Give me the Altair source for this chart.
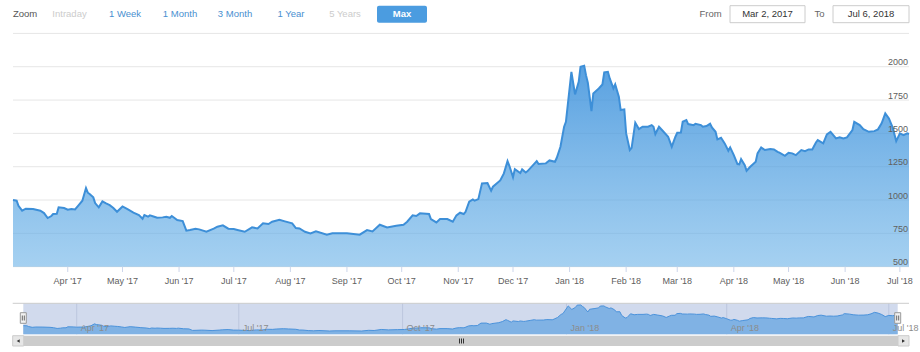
import altair as alt
import pandas as pd

# ---------------- data ----------------
dates = [
    "2017-03-02", "2017-03-04", "2017-03-05", "2017-03-07", "2017-03-09", "2017-03-13", "2017-03-17",
    "2017-03-19", "2017-03-21", "2017-03-23", "2017-03-24", "2017-03-26", "2017-03-27", "2017-03-30",
    "2017-04-01", "2017-04-03", "2017-04-05", "2017-04-07", "2017-04-09", "2017-04-11", "2017-04-12",
    "2017-04-13", "2017-04-15", "2017-04-16", "2017-04-18", "2017-04-20", "2017-04-22", "2017-04-24",
    "2017-04-26", "2017-04-28", "2017-05-01", "2017-05-04", "2017-05-07", "2017-05-10", "2017-05-12",
    "2017-05-13", "2017-05-15", "2017-05-16", "2017-05-18", "2017-05-20", "2017-05-23", "2017-05-25",
    "2017-05-27", "2017-05-28", "2017-05-31", "2017-06-03", "2017-06-05", "2017-06-07", "2017-06-10",
    "2017-06-12", "2017-06-16", "2017-06-20", "2017-06-22", "2017-06-25", "2017-06-28", "2017-07-01",
    "2017-07-03", "2017-07-07", "2017-07-11", "2017-07-14", "2017-07-17", "2017-07-20", "2017-07-22",
    "2017-07-26", "2017-07-29", "2017-08-02", "2017-08-04", "2017-08-06", "2017-08-09", "2017-08-12",
    "2017-08-15", "2017-08-21", "2017-08-24", "2017-09-01", "2017-09-08", "2017-09-12", "2017-09-15",
    "2017-09-19", "2017-09-23", "2017-09-28", "2017-10-02", "2017-10-04", "2017-10-07", "2017-10-09",
    "2017-10-11", "2017-10-16", "2017-10-17", "2017-10-20", "2017-10-22", "2017-10-26", "2017-10-29",
    "2017-10-31", "2017-11-02", "2017-11-04", "2017-11-05", "2017-11-07", "2017-11-09", "2017-11-10",
    "2017-11-12", "2017-11-14", "2017-11-17", "2017-11-19", "2017-11-20", "2017-11-24", "2017-11-26",
    "2017-11-28", "2017-11-29", "2017-12-01", "2017-12-02", "2017-12-05", "2017-12-06", "2017-12-08",
    "2017-12-09", "2017-12-12", "2017-12-14", "2017-12-15", "2017-12-19", "2017-12-21", "2017-12-24",
    "2017-12-25", "2017-12-27", "2017-12-29", "2017-12-30", "2018-01-02", "2018-01-04", "2018-01-06",
    "2018-01-07", "2018-01-09", "2018-01-10", "2018-01-11", "2018-01-13", "2018-01-14", "2018-01-17",
    "2018-01-19", "2018-01-20", "2018-01-22", "2018-01-23", "2018-01-25", "2018-01-26", "2018-01-28",
    "2018-01-29", "2018-01-31", "2018-02-01", "2018-02-03", "2018-02-04", "2018-02-06", "2018-02-08",
    "2018-02-10", "2018-02-13", "2018-02-15", "2018-02-16", "2018-02-17", "2018-02-19", "2018-02-21",
    "2018-02-24", "2018-02-26", "2018-02-28", "2018-03-01", "2018-03-03", "2018-03-04", "2018-03-06",
    "2018-03-07", "2018-03-10", "2018-03-11", "2018-03-14", "2018-03-15", "2018-03-17", "2018-03-19",
    "2018-03-20", "2018-03-22", "2018-03-23", "2018-03-25", "2018-03-27", "2018-03-29", "2018-03-30",
    "2018-04-01", "2018-04-03", "2018-04-04", "2018-04-05", "2018-04-07", "2018-04-08", "2018-04-10",
    "2018-04-13", "2018-04-14", "2018-04-16", "2018-04-18", "2018-04-21", "2018-04-23", "2018-04-25",
    "2018-04-26", "2018-04-29", "2018-05-01", "2018-05-03", "2018-05-05", "2018-05-06", "2018-05-08",
    "2018-05-10", "2018-05-12", "2018-05-14", "2018-05-16", "2018-05-17", "2018-05-20", "2018-05-22",
    "2018-05-24", "2018-05-27", "2018-05-29", "2018-05-31", "2018-06-02", "2018-06-05", "2018-06-06",
    "2018-06-09", "2018-06-11", "2018-06-14", "2018-06-17", "2018-06-19", "2018-06-21", "2018-06-23",
    "2018-06-25", "2018-06-27", "2018-06-29", "2018-07-01", "2018-07-03", "2018-07-05", "2018-07-06",
]
values = [
    1000, 995, 957, 920, 935, 932, 920,
    902, 865, 880, 895, 897, 945, 940,
    927, 932, 930, 962, 995, 1090, 1055,
    1045, 1020, 977, 945, 990, 975, 962,
    940, 912, 952, 930, 905, 887, 860,
    887, 875, 885, 877, 867, 870, 875,
    867, 880, 850, 842, 770, 775, 785,
    780, 762, 785, 800, 810, 785, 782,
    775, 762, 795, 787, 825, 820, 837,
    852, 840, 825, 790, 787, 762, 750,
    765, 740, 750, 750, 740, 775, 765,
    815, 795, 807, 815, 837, 885, 880,
    900, 895, 857, 832, 857, 857, 837,
    885, 905, 895, 912, 987, 1005, 995,
    1007, 1125, 1127, 1070, 1100, 1147, 1200,
    1292, 1257, 1172, 1232, 1202, 1230, 1207,
    1217, 1262, 1292, 1270, 1275, 1297, 1287,
    1317, 1400, 1550, 1587, 1962, 1792, 1887,
    2000, 2008, 1937, 1880, 1667, 1800, 1837,
    1867, 1957, 1962, 1912, 1837, 1867, 1775,
    1675, 1680, 1500, 1375, 1392, 1580, 1532,
    1550, 1550, 1562, 1550, 1495, 1550, 1520,
    1475, 1400, 1475, 1505, 1507, 1587, 1600,
    1570, 1562, 1572, 1562, 1550, 1555, 1572,
    1545, 1512, 1455, 1467, 1425, 1370, 1395,
    1337, 1270, 1267, 1307, 1262, 1220, 1250,
    1287, 1350, 1395, 1375, 1382, 1380, 1362,
    1355, 1332, 1355, 1350, 1337, 1350, 1375,
    1367, 1380, 1380, 1432, 1450, 1425, 1492,
    1512, 1462, 1470, 1462, 1470, 1525, 1587,
    1562, 1532, 1512, 1517, 1530, 1575, 1650,
    1612, 1545, 1442, 1500, 1487, 1500, 1495,
]

grid_values = [500, 750, 1000, 1250, 1500, 1750, 2000, 2250]
y_tick_labels = ["500", "750", "1000", "1250", "1500", "1750", "2000"]
month_starts = ["2017-04-01", "2017-05-01", "2017-06-01", "2017-07-01", "2017-08-01", "2017-09-01",
                "2017-10-01", "2017-11-01", "2017-12-01", "2018-01-01", "2018-02-01", "2018-03-01",
                "2018-04-01", "2018-05-01", "2018-06-01", "2018-07-01"]
nav_starts = ["2017-04-01", "2017-07-01", "2017-10-01", "2018-01-01", "2018-04-01", "2018-07-01"]
zoom_buttons = ["Intraday", "1 Week", "1 Month", "3 Month", "1 Year", "5 Years", "Max"]
button_enabled = [False, True, True, True, True, False, True]

# ---------------- tables ----------------
df = pd.DataFrame({"date": pd.to_datetime(dates), "value": values})
grid_df = pd.DataFrame({"v": grid_values})
ylab_df = pd.DataFrame({"v": [int(s) for s in y_tick_labels], "t": y_tick_labels})
mon_df = pd.DataFrame({"d": pd.to_datetime(month_starts)})
nav_df = pd.DataFrame({"d": pd.to_datetime(nav_starts)})

FONT = "Liberation Sans, Arial, sans-serif"
ONE = alt.Data(values=[{"k": 0}])

t0 = alt.DateTime(year=2017, month=3, date=2)
t1 = alt.DateTime(year=2018, month=7, date=6)
main_x = alt.Scale(domain=[t0, t1], range=[13, 909], nice=False)
main_y = alt.Scale(domain=[500, 2250], range=[266.7, 33.4], nice=False, zero=False)
nav_x = alt.Scale(domain=[t0, t1], range=[23.3, 897.7], nice=False)
nav_y = alt.Scale(domain=[580, 2090], range=[334.3, 303.3], nice=False, zero=False)


def label(txt, x, y, color, size=9.5, align="center", weight="normal"):
    return alt.Chart(ONE).mark_text(
        text=txt, align=align, baseline="middle", fontSize=size, font=FONT,
        color=color, fontWeight=weight
    ).encode(x=alt.value(x), y=alt.value(y))


def box(x1, x2, y1, y2, fill, stroke=None, radius=0):
    kw = dict(fill=fill, cornerRadius=radius)
    if stroke:
        kw.update(stroke=stroke, strokeWidth=1)
    return alt.Chart(ONE).mark_rect(**kw).encode(
        x=alt.value(x1), x2=alt.value(x2), y=alt.value(y1), y2=alt.value(y2))


def hline(x1, x2, y, color, w=1):
    return alt.Chart(ONE).mark_rule(color=color, strokeWidth=w).encode(
        x=alt.value(x1), x2=alt.value(x2), y=alt.value(y))


def vline(x, y1, y2, color, w=1):
    return alt.Chart(ONE).mark_rule(color=color, strokeWidth=w).encode(
        x=alt.value(x), y=alt.value(y1), y2=alt.value(y2))


layers = []

# ---------------- main plot ----------------
layers.append(
    alt.Chart(grid_df).mark_rule(color="#e6e6e6", strokeWidth=1).encode(
        y=alt.Y("v:Q", scale=main_y, axis=None), x=alt.value(13), x2=alt.value(909))
)

area_fill = alt.Gradient(
    gradient="linear", x1=0, x2=0, y1=0, y2=1,
    stops=[alt.GradientStop(offset=0, color="rgba(52,140,218,0.82)"),
           alt.GradientStop(offset=1, color="rgba(110,180,232,0.62)")])

layers.append(
    alt.Chart(df).mark_area(fill=area_fill, interpolate="linear").encode(
        x=alt.X("date:T", scale=main_x, axis=None),
        y=alt.Y("value:Q", scale=main_y, axis=None),
        y2=alt.datum(500))
)
layers.append(
    alt.Chart(df).mark_line(color="#3d8fd8", strokeWidth=2, interpolate="linear").encode(
        x=alt.X("date:T", scale=main_x, axis=None),
        y=alt.Y("value:Q", scale=main_y, axis=None))
)

# y labels (inside, right)
layers.append(
    alt.Chart(ylab_df).mark_text(align="right", baseline="alphabetic", dy=-1.5,
                                 fontSize=9, font=FONT, color="#606060").encode(
        y=alt.Y("v:Q", scale=main_y, axis=None), x=alt.value(908), text="t:N")
)

# x ticks and labels
layers.append(
    alt.Chart(mon_df).mark_rule(color="#ccd6eb", strokeWidth=1).encode(
        x=alt.X("d:T", scale=main_x, axis=None), y=alt.value(266.7), y2=alt.value(272))
)
layers.append(
    alt.Chart(mon_df).mark_text(align="center", baseline="alphabetic", fontSize=9,
                                font=FONT, color="#606060").encode(
        x=alt.X("d:T", scale=main_x, axis=None), y=alt.value(283.5),
        text=alt.Text("d:T", format="%b '%y"))
)

# ---------------- range selector header ----------------
layers.append(label("Zoom", 13, 14, "#555555", align="left"))
layers.append(box(377, 427, 5.7, 22.7, "#4b9ce0", radius=2))
btn_x = [69.5, 125, 180, 235, 291, 345, 402]
for name, enabled, bx in zip(zoom_buttons, button_enabled, btn_x):
    if name == "Max":
        layers.append(label(name, bx, 14, "#ffffff", weight="bold"))
    else:
        layers.append(label(name, bx, 14, "#4a8fd0" if enabled else "#cccccc"))

start_txt = f"{df.date.iloc[0]:%b} {df.date.iloc[0].day}, {df.date.iloc[0].year}"
end_txt = f"{df.date.iloc[-1]:%b} {df.date.iloc[-1].day}, {df.date.iloc[-1].year}"
layers.append(label("From", 710.5, 14, "#666666"))
layers.append(box(730, 805, 5.7, 22.7, "#ffffff", stroke="#cccccc"))
layers.append(label(start_txt, 767.5, 14, "#333333"))
layers.append(label("To", 819.5, 14, "#666666"))
layers.append(box(833, 909, 5.7, 22.7, "#ffffff", stroke="#cccccc"))
layers.append(label(end_txt, 871, 14, "#333333"))

# ---------------- navigator ----------------
layers.append(box(23.3, 897.7, 303.3, 334.3, "#d1daed"))
layers.append(
    alt.Chart(nav_df).mark_rule(color="#bcc6de", strokeWidth=1).encode(
        x=alt.X("d:T", scale=nav_x, axis=None), y=alt.value(303.3), y2=alt.value(334.3))
)
layers.append(
    alt.Chart(df).mark_area(fill="#80b2e4", interpolate="linear").encode(
        x=alt.X("date:T", scale=nav_x, axis=None),
        y=alt.Y("value:Q", scale=nav_y, axis=None),
        y2=alt.datum(580))
)
layers.append(
    alt.Chart(df).mark_line(color="#4a92db", strokeWidth=1, interpolate="linear").encode(
        x=alt.X("date:T", scale=nav_x, axis=None),
        y=alt.Y("value:Q", scale=nav_y, axis=None))
)
layers.append(
    alt.Chart(nav_df).mark_text(align="left", baseline="alphabetic", dx=4, fontSize=9,
                                font=FONT, color="#8c8c8c").encode(
        x=alt.X("d:T", scale=nav_x, axis=None), y=alt.value(330.5),
        text=alt.Text("d:T", format="%b '%y"))
)
layers.append(hline(12.7, 909, 303.3, "#cccccc"))

# handles
for hx in (23.3, 897.7):
    layers.append(box(hx - 3, hx + 3, 312.7, 323.3, "#f2f2f2", stroke="#999999"))
    layers.append(vline(hx - 1, 315.5, 320.5, "#666666"))
    layers.append(vline(hx + 1, 315.5, 320.5, "#666666"))

# scrollbar
layers.append(box(23.7, 898, 335.7, 346, "#cccccc"))
layers.append(box(12.7, 23.7, 335.7, 346, "#e6e6e6", stroke="#cccccc"))
layers.append(box(898, 909, 335.7, 346, "#e6e6e6", stroke="#cccccc"))
for rx in (459.5, 461.5, 463.5):
    layers.append(vline(rx, 338.5, 343.5, "#333333"))
layers.append(alt.Chart(ONE).mark_point(shape="triangle-left", filled=True, color="#333333",
                                        size=12, opacity=1).encode(x=alt.value(18.2), y=alt.value(340.9)))
layers.append(alt.Chart(ONE).mark_point(shape="triangle-right", filled=True, color="#333333",
                                        size=12, opacity=1).encode(x=alt.value(903.5), y=alt.value(340.9)))

chart = alt.layer(*layers).resolve_scale(
    x="independent", y="independent"
).properties(
    width=920, height=352, padding=0,
    autosize=alt.AutoSizeParams(type="none"),
    background="#ffffff",
).configure_view(stroke=None)

chart.save("out.html", embed_options={"renderer": "svg", "actions": False})
